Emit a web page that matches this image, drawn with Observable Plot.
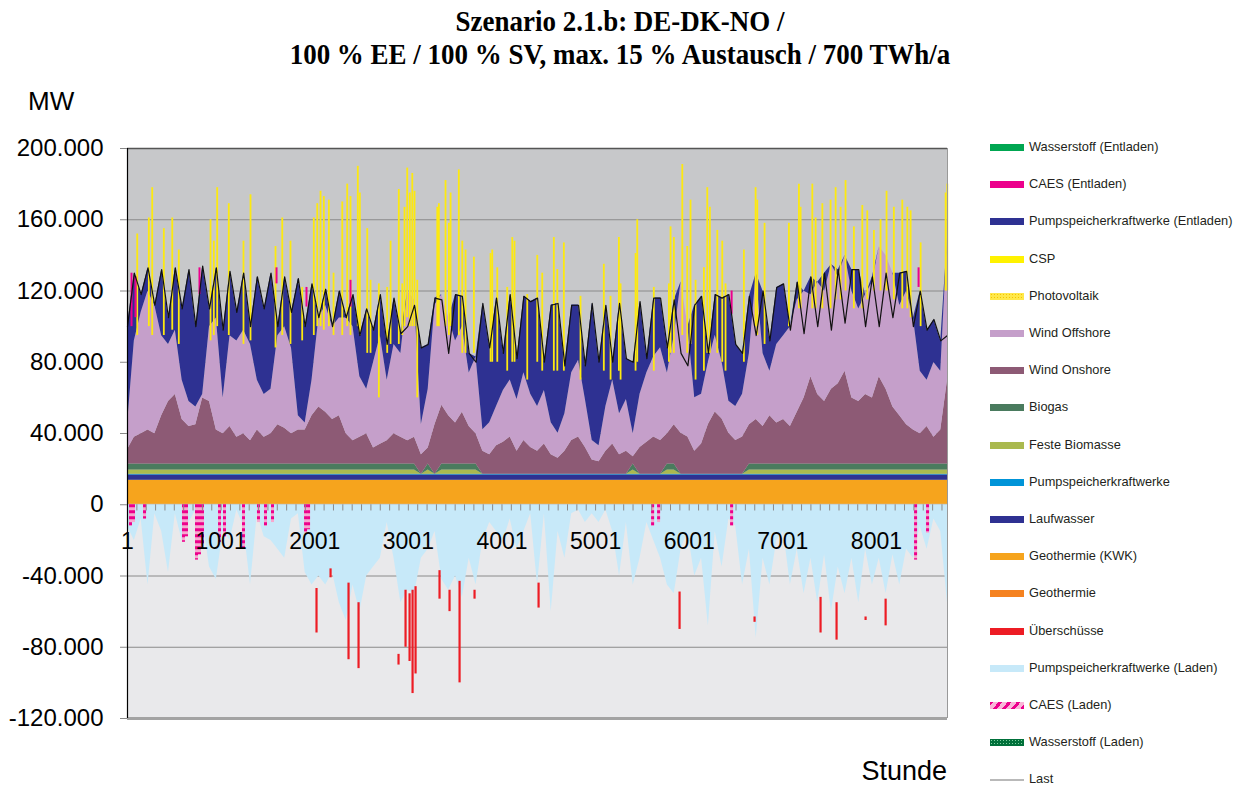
<!DOCTYPE html>
<html><head><meta charset="utf-8">
<script src="https://cdn.jsdelivr.net/npm/d3@7"></script>
<script src="https://cdn.jsdelivr.net/npm/@observablehq/plot@0.6"></script>
<style>
body{margin:0;background:#fff;}
#wrap{position:relative;width:1243px;height:787px;overflow:hidden;font-family:"Liberation Sans",Arial,sans-serif;color:#000;}
#chart{position:absolute;left:0;top:0;}
.title{position:absolute;left:0;width:1240px;text-align:center;font-family:"Liberation Serif","Times New Roman",serif;font-weight:bold;font-size:29px;line-height:32px;z-index:2;transform:scaleX(0.93);transform-origin:620px 0;white-space:nowrap;}
#t1{top:5px;} #t2{top:38px;}
#mw{position:absolute;left:28px;top:86px;font-size:26px;line-height:30px;z-index:2;}
#stunde{position:absolute;right:296px;top:756px;font-size:27px;line-height:31px;z-index:2;}
.li{position:absolute;left:990px;height:14px;font-size:12.8px;color:#231f20;z-index:2;white-space:nowrap;}
.sw{position:absolute;left:0;top:4px;width:34px;height:7px;}
.lt{position:absolute;left:39px;top:0;line-height:14px;}
</style></head>
<body><div id="wrap"><div id="chart"></div>
<div class="title" id="t1">Szenario 2.1.b: DE-DK-NO /</div>
<div class="title" id="t2">100 % EE / 100 % SV, max. 15 % Austausch / 700 TWh/a</div>
<div id="mw">MW</div><div id="stunde">Stunde</div>
</div>
<script>
// ---- data (GW = 1000 MW), one sample every 73 hours ----
const sampleStep = 73;
const geothermie = 0.3, geothermieKWK = 13.4, laufwasser = 3.0, pumpspeicher = 0.4;
const festeBiomasse = [
2.4,2.4,2.4,2.4,2.4,2.4,2.4,2.4,2.4,2.4, 2.4,2.4,2.4,2.4,2.4,2.4,2.4,2.4,2.4,2.4,
2.4,2.4,2.4,2.4,2.4,2.4,2.4,2.4,2.4,2.4, 2.4,2.4,2.4,2.4,2.4,2.4,2.4,2.4,2.4,2.4,
2.4,2.4,2.4,0,2.4,0,2.4,2.4,2.4,2.4, 2.4,2.4,0,0,0,0,0,0,0,0,
0,0,0,0,0,0,0,0,0,0, 0,0,0,0,2.4,0,0,0,0,2.4,
2.4,0,0,0,0,0,0,0,0,0, 0,2.4,2.4,2.4,2.4,2.4,2.4,2.4,2.4,2.4,
2.4,2.4,2.4,2.4,2.4,2.4,2.4,2.4,2.4,2.4, 2.4,2.4,2.4,2.4,2.4,2.4,2.4,2.4,2.4,2.4, 2.4];
const biogas = [
3.4,3.4,3.4,3.4,3.4,3.4,3.4,3.4,3.4,3.4, 3.4,3.4,3.4,3.4,3.4,3.4,3.4,3.4,3.4,3.4,
3.4,3.4,3.4,3.4,3.4,3.4,3.4,3.4,3.4,3.4, 3.4,3.4,3.4,3.4,3.4,3.4,3.4,3.4,3.4,3.4,
3.4,3.4,3.4,0,3.4,0,3.4,3.4,3.4,3.4, 3.4,3.4,0,0,0,0,0,0,0,0,
0,0,0,0,0,0,0,0,0,0, 0,0,0,0,3.4,0,0,0,0,3.4,
3.4,0,0,0,0,0,0,0,0,0, 0,3.4,3.4,3.4,3.4,3.4,3.4,3.4,3.4,3.4,
3.4,3.4,3.4,3.4,3.4,3.4,3.4,3.4,3.4,3.4, 3.4,3.4,3.4,3.4,3.4,3.4,3.4,3.4,3.4,3.4, 3.4];
const windOnshore = [
8,15,17,19,17,27,35,39,25,21, 22,37,35,19,17,21,15,17,13,19,
15,17,22,20,17,19,19,27,32,29, 25,27,17,13,15,17,9,11,13,17,
15,13,15,11,9,28,33,27,23,29, 21,17,13,11,16,18,21,13,19,15,
13,17,11,9,13,19,21,15,8,7, 13,17,11,13,4,15,18,21,19,17,
22,23,21,13,17,28,35,31,23,19, 21,22,25,21,27,23,25,21,29,37,
49,39,35,42,45,52,37,35,39,37, 49,42,32,27,22,19,17,21,15,19, 47];
const windOffshore = [
14,54,68,78,72,45,32,36,22,14, 10,2,42,63,20,51,54,58,54,28,
24,25,50,57,48,8,4,20,50,60, 52,55,65,64,34,25,48,61,34,50,
47,84,77,17,33,67,62,55,46,48, 30,43,12,18,22,29,32,29,38,30,
25,30,18,14,21,38,43,27,11,9, 25,36,23,29,13,30,39,45,52,34,
50,85,62,30,28,35,43,32,18,19, 24,40,82,41,25,44,47,56,63,60,
46,63,62,70,60,65,60,52,56,65, 73,75,75,62,75,63,35,26,42,33, 80];
const pspEntladen = [
55,38,10,13,0,37,15,35,40,74, 45,72,10,28,38,36,16,32,10,58,
48,65,5,28,20,77,54,54,0,9, 0,15,0,18,23,45,18,23,20,26,
11,0,0,43,25,4,0,0,26,17, 11,0,71,42,61,21,48,23,43,52,
61,16,66,73,27,38,31,19,77,47, 57,10,62,23,40,52,8,33,28,14,
20,0,0,52,55,5,23,36,60,35, 23,32,0,35,17,32,29,0,10,0,
10,0,10,0,4,0,12,22,0,3, 0,0,0,18,11,0,45,28,24,17, 0];
const last = [
100,130,118,133,112,132,105,133,110,132, 100,134,110,133,98,131,108,130,100,128,
110,130,100,128,108,127,100,124,105,121, 100,120,105,118,95,110,98,118,90,116,
96,100,112,88,90,116,115,85,118,117, 85,80,113,88,116,85,118,82,117,114,
116,80,112,113,78,112,112,78,113,80, 112,80,113,82,80,114,82,116,116,88,
115,85,78,112,117,85,118,116,118,90, 85,117,95,120,92,122,124,98,125,96,
128,100,130,98,132,102,132,132,100,128, 100,130,105,130,131,100,120,98,104,92, 95];
const pspLaden = [
-12,-20,-8,-45,-5,-15,-38,-5,-20,-10, -3,-8,-35,-42,-15,-20,-3,-12,-45,-5,
-18,-20,-25,-30,-8,-5,-38,-45,-40,-45, -38,-55,-65,-45,-60,-40,-35,-30,-10,-30,
-55,-48,-50,-30,-25,-15,-42,-48,-40,-52, -30,-45,-20,-10,-15,-20,-8,-25,-15,-5,
-45,-5,-60,-15,-30,-5,-3,-10,-5,-10, -3,-15,-40,-10,-45,-30,-10,-20,-30,-45,
-50,-25,-15,-40,-30,-68,-15,-35,-8,-12, -45,-25,-75,-30,-45,-20,-15,-45,-25,-50,
-30,-55,-28,-60,-35,-50,-30,-55,-25,-45, -30,-50,-28,-45,-25,-30,-12,-25,-8,-15, -55];
// thin spikes: [hour, from GW, to GW]
const pvSpikes = [
[105,95,152],[229,100,161],[265,95,178],[389,95,155],[479,98,161],[549,90,143],[888,92,160],[923,95,148],[959,100,178],[1083,95,169],
[1240,90,148],[1315,92,174],[1582,88,145],[1654,95,161],[1742,90,148],[1867,92,122],[1991,95,161],[2028,100,169],[2063,100,176],[2098,98,173],
[2152,100,171],[2202,95,130],[2295,95,170],[2348,100,180],[2383,95,173],[2461,100,190],[2483,95,175],[2562,85,155],[2597,85,126],[2686,60,124],
[2775,85,122],[2811,90,148],[2899,90,177],[2936,95,124],[2960,100,167],[2989,105,189],[3017,100,175],[3043,100,186],[3067,100,176],[3096,60,126],
[3310,100,167],[3327,100,169],[3398,100,182],[3434,95,158],[3452,100,175],[3540,95,188],[3577,85,148],[3612,85,143],[3701,85,139],[3879,80,141],
[3897,80,143],[3951,80,133],[4057,75,122],[4111,80,150],[4135,80,148],[4271,70,118],[4378,80,140],[4431,75,130],[4555,75,150],[4592,75,132],
[4662,75,147],[4840,70,117],[5089,75,135],[5161,70,117],[5250,75,150],[5268,70,124],[5428,75,141],[5446,80,160],[5623,75,122],[5784,80,124],
[5802,85,156],[5837,85,150],[5927,95,191],[5980,85,145],[6015,90,171],[6069,70,126],[6158,75,133],[6194,85,178],[6222,85,167],[6301,85,154],
[6354,80,148],[6389,75,124],[6585,80,143],[6710,100,178],[6728,95,171],[6806,90,158],[7066,100,158],[7173,110,180],[7191,110,167],[7316,110,180],
[7351,110,161],[7423,110,169],[7511,110,171],[7565,115,178],[7618,115,167],[7671,120,182],[7760,110,156],[7850,110,168],[7903,115,165],[7974,120,154],
[8045,120,160],[8109,120,176],[8187,115,167],[8277,110,171],[8331,110,167],[8366,105,165],[8473,100,147],[8740,120,175],[8758,120,180]];
const caesEntladenSpikes = [[44,100,130],[86,105,128],[770,118,133],[1593,124,133],[1913,111,122],[2383,111,126],[6454,107,120],[8451,122,133]];
const ueberschussSpikes = [
[2020,-47,-72],[2170,-36,-41],[2362,-44,-87],[2469,-55,-92],[2896,-84,-90],[2971,-48,-80],[3014,-50,-88],[3046,-48,-106],[3078,-46,-95],[3334,-37,-53],
[3441,-48,-60],[3548,-43,-100],[3708,-48,-53],[4392,-44,-58],[5898,-49,-70],[6699,-63,-66],[7404,-52,-72],[7575,-55,-76],[7885,-63,-65],[8099,-53,-68]];
const caesLadenSpikes = [[33,-12],[65,-10],[183,-8],[599,-21],[631,-18],[738,-31],[770,-28],[802,-22],[984,-21],[1037,-18],
[1240,-25],[1400,-10],[1475,-12],[1550,-10],[1903,-16],[1935,-14],[5610,-12],[5674,-10],[6454,-12],[8419,-31],[8547,-16]];
const xTickLabels = [1,1001,2001,3001,4001,5001,6001,7001,8001];
const yTicks = [-120,-80,-40,0,40,80,120,160,200];
const legendNames = ["Wasserstoff (Entladen)","CAES (Entladen)","Pumpspeicherkraftwerke (Entladen)","CSP","Photovoltaik","Wind Offshore","Wind Onshore","Biogas","Feste Biomasse","Pumpspeicherkraftwerke","Laufwasser","Geothermie (KWK)","Geothermie","Überschüsse","Pumpspeicherkraftwerke (Laden)","CAES (Laden)","Wasserstoff (Laden)","Last"];

// ---- styles ----
const colors = {"Wasserstoff (Entladen)":"#00a651","CAES (Entladen)":"#ec008c","Pumpspeicherkraftwerke (Entladen)":"#2e3192","CSP":"#fff200","Photovoltaik":"#ffe12a","Wind Offshore":"#c59fca","Wind Onshore":"#8d5a75","Biogas":"#4a7b5e","Feste Biomasse":"#aab94e","Pumpspeicherkraftwerke":"#0094d8","Laufwasser":"#2e3192","Geothermie (KWK)":"#f6a41d","Geothermie":"#f58220","Überschüsse":"#ed1c24","Pumpspeicherkraftwerke (Laden)":"#c7e9f9","CAES (Laden)":"#ec008c","Wasserstoff (Laden)":"#00843d","Last":"#b9b9b9"};

const hourOf = i => Math.min(8760, 1 + i * sampleStep);
const stackSeries = [
  ["Geothermie", i => geothermie],
  ["Geothermie (KWK)", i => geothermieKWK],
  ["Laufwasser", i => laufwasser],
  ["Pumpspeicherkraftwerke", i => pumpspeicher],
  ["Feste Biomasse", i => festeBiomasse[i]],
  ["Biogas", i => biogas[i]],
  ["Wind Onshore", i => windOnshore[i]],
  ["Wind Offshore", i => windOffshore[i]],
  ["Pumpspeicherkraftwerke (Entladen)", i => pspEntladen[i]]
];
const stackOrder = stackSeries.map(d => d[0]);
const rows = [];
for (let i = 0; i < windOnshore.length; i++) for (const [name, f] of stackSeries) rows.push({hour: hourOf(i), series: name, value: f(i)});
const ladenRows = pspLaden.map((v, i) => ({hour: hourOf(i), value: v}));
const lastRows = last.map((v, i) => ({hour: hourOf(i), value: v}));

const fmt = v => { const n = Math.abs(Math.round(v * 1000)); const s = n.toString().replace(/\B(?=(\d{3})+(?!\d))/g, "."); return (v < 0 ? "-" : "") + s; };
const minorTicks = d3.range(1, 8761, 100);

const chart = Plot.plot({
  width: 960, height: 760,
  marginLeft: 127, marginRight: 13, marginTop: 148, marginBottom: 42,
  x: {domain: [1, 8760], axis: null},
  y: {domain: [-120, 200], axis: null},
  color: {type: "identity"},
  style: {fontFamily: "'Liberation Sans', Arial, sans-serif", fontSize: "24px", background: "transparent", overflow: "visible", color: "#000"},
  marks: [
    Plot.rect([0], {x1: 1, x2: 8760, y1: 0, y2: 200, fill: "#c7c8ca"}),
    Plot.rect([0], {x1: 1, x2: 8760, y1: -120, y2: 0, fill: "#e9e9eb"}),
    Plot.ruleY(yTicks, {stroke: "#8a8a8a", strokeWidth: 1}),
    Plot.areaY(rows, {x: "hour", y: "value", z: "series", fill: d => colors[d.series], order: stackOrder}),
    Plot.areaY(ladenRows, {x: "hour", y: "value", fill: colors["Pumpspeicherkraftwerke (Laden)"]}),
    Plot.ruleX(ueberschussSpikes, {x: d => d[0], y1: d => d[1], y2: d => d[2], stroke: colors["Überschüsse"], strokeWidth: 2.2}),
    Plot.ruleX(caesLadenSpikes, {x: d => d[0], y1: 0, y2: d => d[1], stroke: "#f7a8cf", strokeWidth: 3}),
    Plot.ruleX(caesLadenSpikes, {x: d => d[0], y1: 0, y2: d => d[1], stroke: colors["CAES (Laden)"], strokeWidth: 3, strokeDasharray: "3,3"}),
    Plot.ruleX(pvSpikes, {x: d => d[0], y1: d => d[1], y2: d => d[2], stroke: "#fde910", strokeWidth: 1.8}),
    Plot.ruleX(caesEntladenSpikes, {x: d => d[0], y1: d => d[1], y2: d => d[2], stroke: colors["CAES (Entladen)"], strokeWidth: 2}),
    Plot.line(lastRows, {x: "hour", y: "value", stroke: "#111", strokeWidth: 1.2}),
    Plot.ruleX(minorTicks, {x: d => d, y1: 0, y2: -3.5, stroke: "#8a8a8a"}),
    Plot.ruleY([200], {stroke: "#555", strokeWidth: 1.5}),
    Plot.ruleX([8760], {y1: -120, y2: 200, stroke: "#999", strokeWidth: 1}),
    Plot.ruleY([-120], {stroke: "#a3a3a3", strokeWidth: 3}),
    Plot.ruleX([1], {y1: -120, y2: 200, stroke: "#000", strokeWidth: 1.2}),
    Plot.axisY(yTicks, {label: null, tickFormat: fmt, tickSize: 7, tickPadding: 17, stroke: "#888", fontSize: 24}),
    Plot.text(xTickLabels, {x: d => d, y: -20.7, text: d => String(d), fontSize: 23, fill: "#000"})
  ]
});
document.getElementById("chart").appendChild(chart);

// ---- legend ----
const wrap = document.getElementById("wrap");
legendNames.forEach((name, k) => {
  const li = document.createElement("div");
  li.className = "li";
  li.style.top = (140 + k * 37.2) + "px";
  const sw = document.createElement("div");
  sw.className = "sw";
  if (name === "Photovoltaik") {
    sw.style.background = "radial-gradient(circle, #f5c400 0.8px, transparent 1px) 0 0/3px 3px, #ffe84a";
  } else if (name === "CAES (Laden)") {
    sw.style.background = "repeating-linear-gradient(-50deg, #ec008c 0 3px, #f9b6d8 3px 7px)";
  } else if (name === "Wasserstoff (Laden)") {
    sw.style.background = "radial-gradient(circle, #7fd0a0 0.7px, transparent 1px) 0 0/3px 3px, #00703a";
  } else if (name === "Last") {
    sw.style.top = "7px"; sw.style.height = "1.5px"; sw.style.background = colors[name];
  } else {
    sw.style.background = colors[name];
  }
  const lt = document.createElement("div");
  lt.className = "lt"; lt.textContent = name;
  li.appendChild(sw); li.appendChild(lt);
  wrap.appendChild(li);
});
</script>
</body></html>
